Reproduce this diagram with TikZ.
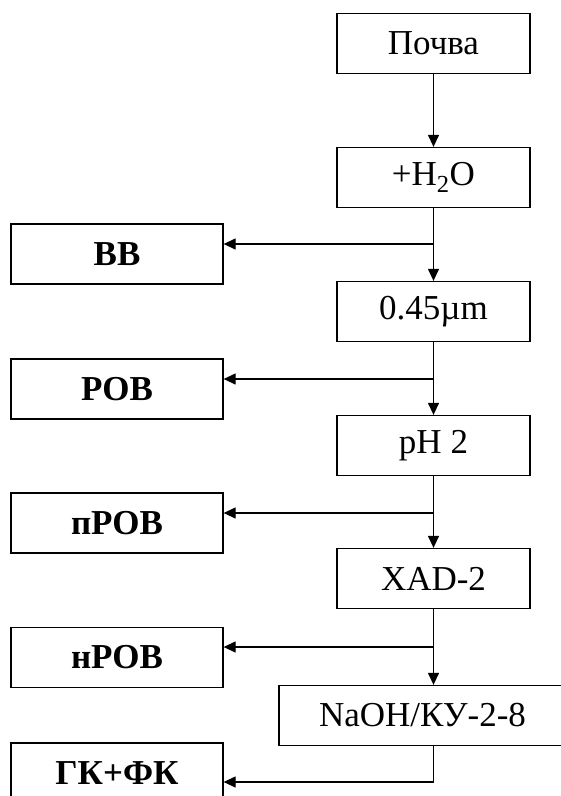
\documentclass[tikz,border=0pt]{standalone}
\usepackage{fontspec}
\setmainfont{Liberation Serif}
\usetikzlibrary{arrows.meta}
\tikzset{
  rbox/.style={draw, line width=1.3pt, minimum width=193pt, minimum height=60pt, inner sep=0pt, font=\fontsize{35}{40}\selectfont},
  lbox/.style={draw, line width=1.3pt, minimum width=212pt, minimum height=60pt, inner sep=0pt, font=\fontsize{35}{40}\selectfont\bfseries},
  arr/.style={line width=1.3pt, -{Triangle[length=12pt,width=11pt]}},
  ln/.style={line width=1.3pt}
}
\begin{document}
\begin{tikzpicture}[x=1pt,y=-1pt]
\clip (0,0) rectangle (561,796);
\fill[white] (0,0) rectangle (561,796);
% right column
\node[rbox] (poch) at (433.5,43.5) {Почва};
\node[rbox] (h2o) at (433.5,177.5) {+H\textsubscript{2}O};
\node[rbox] (filt) at (433.5,311.5) {0.45µm};
\node[rbox] (ph) at (433.5,445.5) {pH 2};
\node[rbox] (xad) at (433.5,578.5) {XAD-2};
\node[rbox, minimum width=287pt] (naoh) at (422.5,715.5) {NaOH/КУ-2-8};
% left column
\node[lbox] (bb) at (117,254) {ВВ};
\node[lbox] (rov) at (117,389) {РОВ};
\node[lbox] (prov) at (117,523) {пРОВ};
\node[lbox] (nrov) at (117,657.5) {нРОВ};
\node[lbox] (gk) at (117,773) {ГК+ФК};
% branch points
\coordinate (b1) at (433.5,244);
\coordinate (b2) at (433.5,379);
\coordinate (b3) at (433.5,513);
\coordinate (b4) at (433.5,647);
\coordinate (b5) at (433.5,782);
% connectors
\draw[arr] (poch) -- (h2o);
\draw[arr] (h2o) -- (filt);
\draw[arr] (filt) -- (ph);
\draw[arr] (ph) -- (xad);
\draw[arr] (xad) -- (xad.south |- naoh.north);
\draw[arr] (b1) -- (b1 -| bb.east);
\draw[arr] (b2) -- (b2 -| rov.east);
\draw[arr] (b3) -- (b3 -| prov.east);
\draw[arr] (b4) -- (b4 -| nrov.east);
\draw[arr] (xad.south |- naoh.south) -- (b5) -- (b5 -| gk.east);
\end{tikzpicture}
\end{document}
